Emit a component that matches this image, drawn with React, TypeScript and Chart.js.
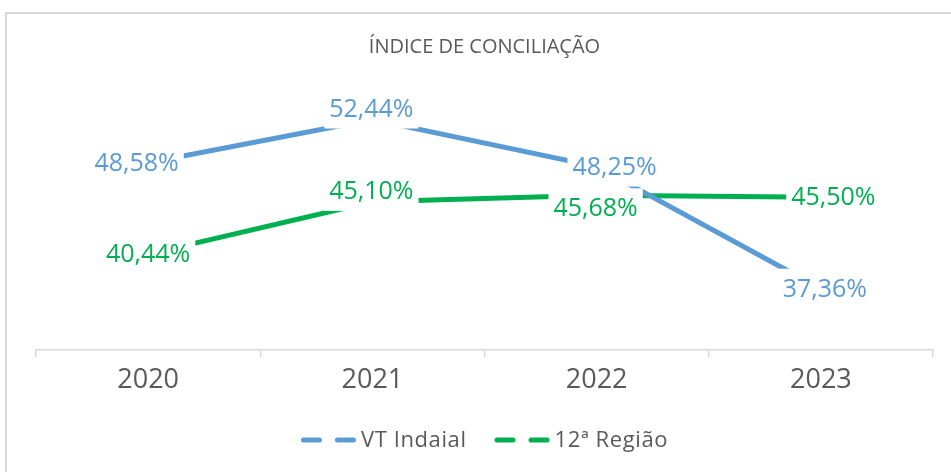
import React, { useEffect, useRef } from "react";
import { Chart, registerables } from "chart.js";

Chart.register(...registerables);

const chartTitle = "ÍNDICE DE CONCILIAÇÃO";
const years = ["2020", "2021", "2022", "2023"];
const vtIndaial = [48.58, 52.44, 48.25, 37.36];
const regiao12 = [40.44, 45.1, 45.68, 45.5];
const seriesNames = ["VT Indaial", "12ª Região"];

const BLUE = "#5B9BD5";
const GREEN = "#00B050";
const GRAY = "#595959";
const LINE = "#D9D9D9";
const FONT = "'Open Sans', 'Noto Sans', sans-serif";

const fmt = (v: number) => v.toFixed(2).replace(".", ",") + "%";

const borderPlugin = {
  id: "frame",
  beforeDraw(chart: any) {
    const ctx = chart.ctx;
    ctx.save();
    ctx.fillStyle = "#ffffff";
    ctx.fillRect(0, 0, chart.width, chart.height);
    ctx.fillStyle = LINE;
    ctx.fillRect(5, 12, 2, chart.height);
    ctx.fillRect(5, 12, chart.width, 2);
    ctx.restore();
  },
};

const labelPlugin = {
  id: "pointLabels",
  afterDatasetsDraw(chart: any) {
    const ctx = chart.ctx;
    ctx.save();
    ctx.font = `25px ${FONT}`;
    ctx.textAlign = "center";
    ctx.textBaseline = "middle";
    chart.data.datasets.forEach((ds: any, di: number) => {
      const meta = chart.getDatasetMeta(di);
      const shifts = ds.labelShift || [];
      meta.data.forEach((pt: any, i: number) => {
        const s = shifts[i] || [0, 0];
        const x = pt.x + s[0];
        const y = pt.y + s[1];
        const text = fmt(ds.data[i]);
        const w = ctx.measureText(text).width;
        ctx.fillStyle = "#ffffff";
        ctx.fillRect(x - w / 2 - 5, y - 20, w + 10, 40);
        ctx.fillStyle = ds.borderColor;
        ctx.fillText(text, x, y + 1);
      });
    });
    ctx.restore();
  },
};

const legendPlugin = {
  id: "dashLegend",
  afterDraw(chart: any) {
    const ctx = chart.ctx;
    const area = chart.chartArea;
    ctx.save();
    ctx.font = `22px ${FONT}`;
    (ctx as any).letterSpacing = "0.6px";
    const items = chart.data.datasets.map((ds: any) => ({
      label: ds.label,
      color: ds.borderColor,
      w: 60 + ctx.measureText(ds.label).width,
    }));
    const gap = 28;
    const total = items.reduce((a: number, it: any) => a + it.w, 0) + gap * (items.length - 1);
    let x = (area.left + area.right) / 2 - total / 2;
    const y = area.bottom + 90;
    items.forEach((it: any) => {
      ctx.strokeStyle = it.color;
      ctx.lineWidth = 5;
      ctx.lineCap = "round";
      ctx.beginPath();
      ctx.moveTo(x + 2.5, y);
      ctx.lineTo(x + 21 - 2.5, y);
      ctx.moveTo(x + 34 + 2.5, y);
      ctx.lineTo(x + 55 - 2.5, y);
      ctx.stroke();
      ctx.fillStyle = GRAY;
      ctx.textAlign = "left";
      ctx.textBaseline = "middle";
      ctx.fillText(it.label, x + 60, y + 1);
      x += it.w + gap;
    });
    ctx.restore();
  },
};

export default function App() {
  const ref = useRef<HTMLCanvasElement | null>(null);
  useEffect(() => {
    if (!ref.current) return;
    const chart = new Chart(ref.current, {
      type: "line",
      data: {
        labels: years,
        datasets: [
          {
            label: seriesNames[0],
            data: vtIndaial,
            borderColor: BLUE,
            backgroundColor: BLUE,
            borderWidth: 5,
            pointRadius: 0,
            tension: 0,
            labelShift: [[-11.5, 0], [-1, -11], [18, 0], [4, 0]],
          } as any,
          {
            label: seriesNames[1],
            data: regiao12,
            borderColor: GREEN,
            backgroundColor: GREEN,
            borderWidth: 5,
            pointRadius: 0,
            tension: 0,
            labelShift: [[0, 0], [-1, -11], [-1, 13], [12.5, 0]],
          } as any,
        ],
      },
      options: {
        responsive: false,
        animation: false,
        layout: { padding: { left: 36, right: 18, top: 0, bottom: 68.6 } },
        plugins: {
          legend: { display: false },
          tooltip: { enabled: false },
          title: {
            display: true,
            text: chartTitle,
            color: GRAY,
            font: { family: FONT, size: 20, weight: "normal" },
            padding: { top: 35, bottom: 11 },
          },
        },
        scales: {
          x: {
            offset: true,
            grid: {
              offset: true,
              drawOnChartArea: false,
              drawTicks: true,
              tickLength: 7,
              color: LINE,
              lineWidth: 1.5,
            },
            border: { display: true, color: LINE, width: 1.5 },
            ticks: { color: GRAY, font: { family: FONT, size: 27 }, padding: 7 },
          },
          y: { display: false, min: 31.9, max: 56.85 },
        },
      },
      plugins: [borderPlugin, labelPlugin, legendPlugin],
    });
    return () => chart.destroy();
  }, []);
  return (
    <div style={{ position: "absolute", left: 0, top: 0, width: 951, height: 472 }}>
      <canvas ref={ref} width={951} height={472} />
    </div>
  );
}
